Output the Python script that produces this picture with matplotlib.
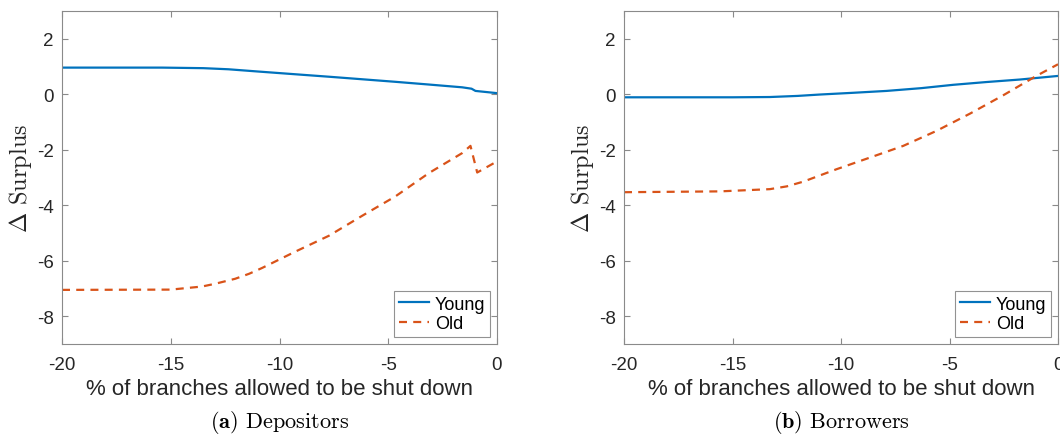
import matplotlib
matplotlib.use("Agg")
import matplotlib.pyplot as plt

plt.rcParams['mathtext.fontset'] = 'cm'

# ---- data ----
dep_young_x = [-20, -15.4, -13.5, -12.35, -11, -9.27, -7.7, -6.2, -4.7, -3.13, -1.6, -1.17, -0.99, 0]
dep_young_y = [0.96, 0.96, 0.94, 0.90, 0.82, 0.72, 0.63, 0.54, 0.45, 0.35, 0.25, 0.20, 0.12, 0.04]

dep_old_x = [-20, -15, -13.57, -12.96, -12.04, -11.4, -10.8, -9.27, -7.73, -6.2, -4.67, -3.13, -1.6, -1.22, -0.91, 0]
dep_old_y = [-7.05, -7.04, -6.93, -6.83, -6.65, -6.47, -6.26, -5.67, -5.10, -4.38, -3.68, -2.84, -2.12, -1.86, -2.82, -2.42]

bor_young_x = [-20, -15, -13.28, -12, -10.97, -9.5, -7.9, -6.3, -4.83, -3.3, -1.76, 0]
bor_young_y = [-0.11, -0.11, -0.10, -0.06, -0.01, 0.05, 0.12, 0.22, 0.34, 0.44, 0.53, 0.66]

bor_old_x = [-20, -15.58, -13.28, -12.5, -11.74, -10.2, -8.66, -7.13, -5.6, -4.06, -2.53, -1.0, 0]
bor_old_y = [-3.53, -3.50, -3.42, -3.32, -3.15, -2.70, -2.28, -1.86, -1.32, -0.70, -0.04, 0.66, 1.08]

xticks = [-20, -15, -10, -5, 0]
yticks = [-8, -6, -4, -2, 0, 2]
xlabel = "% of branches allowed to be shut down"
ylabel = r"$\Delta$ Surplus"
captions = [(r"$\mathbf{(a)}$", "Depositors"), (r"$\mathbf{(b)}$", "Borrowers")]
legend_labels = ["Young", "Old"]

BLUE = "#0072BD"
ORANGE = "#D95319"
SPINE = "#8a8a8a"
TXT = "#262626"
SANS = ["Liberation Sans", "DejaVu Sans"]

fig = plt.figure(figsize=(10.6, 4.35), dpi=100)
W, H = 1060, 435
ax_specs = [(62, 12, 435, 333), (624, 12, 434, 333)]
series = [(dep_young_x, dep_young_y, dep_old_x, dep_old_y),
          (bor_young_x, bor_young_y, bor_old_x, bor_old_y)]

for (l, t, w, h), (yx, yy, ox, oy), cap in zip(ax_specs, series, captions):
    ax = fig.add_axes([l / W, 1 - (t + h) / H, w / W, h / H])
    ax.plot(yx, yy, color=BLUE, lw=1.6, label=legend_labels[0])
    ax.plot(ox, oy, color=ORANGE, lw=1.6, linestyle=(0, (3.6, 2.8)), label=legend_labels[1])
    ax.set_xlim(-20, 0)
    ax.set_ylim(-9, 3)
    ax.set_xticks(xticks)
    ax.set_yticks(yticks)
    ax.set_xticklabels([str(v) for v in xticks], fontfamily=SANS)
    ax.set_yticklabels([str(v) for v in yticks], fontfamily=SANS)
    for s in ax.spines.values():
        s.set_color(SPINE)
        s.set_linewidth(0.8)
    ax.tick_params(direction='in', length=4, width=0.8, color=SPINE,
                   labelsize=13.5, labelcolor=TXT, top=True, right=True, pad=6)
    ax.tick_params(axis='x', pad=9)
    ax.set_xlabel(xlabel, fontsize=16, color=TXT, fontfamily=SANS, labelpad=3)
    ax.set_ylabel(ylabel, fontsize=17.5, color=TXT, fontfamily='cmr10', labelpad=2)
    leg = ax.legend(loc='lower right', prop={'family': SANS, 'size': 13},
                    frameon=True, fancybox=False, borderaxespad=0.4,
                    handlelength=1.7, handletextpad=0.3, borderpad=0.25,
                    labelspacing=0.15)
    leg.get_frame().set_edgecolor("#777777")
    leg.get_frame().set_linewidth(0.8)
    cx = (l + w / 2) / W
    fig.text(cx, 1 - 423 / H, cap[0] + " " + cap[1], ha='center', va='center',
             fontsize=16, fontfamily='cmr10', color='black')

fig.savefig("out.png", dpi=100)
